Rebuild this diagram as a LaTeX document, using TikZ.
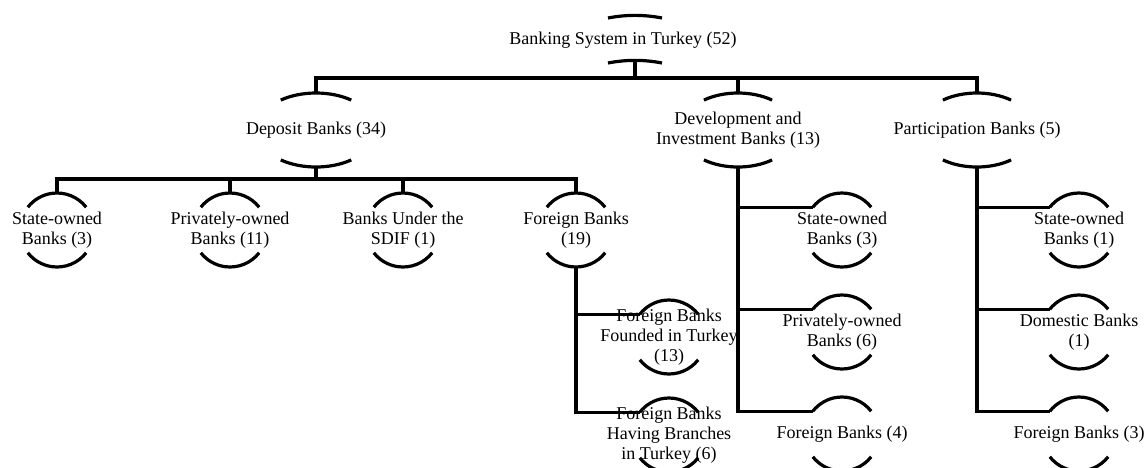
\documentclass[tikz,border=0pt]{standalone}
\usepackage{fontspec}
\setmainfont{Liberation Serif}
\usetikzlibrary{calc}
\newcommand\bnode[7]{% name, x, y, rx, ry, theta, text
  \node[lbl] (#1) at (#2,#3) {#7};
  \pgfmathsetmacro\bnA{180-#6}
  \pgfmathsetmacro\bnB{-#6}
  \pgfmathsetmacro\bnC{-180+#6}
  \coordinate (#1-t) at ($(#1.center)+(0,#5)$);
  \coordinate (#1-b) at ($(#1.center)+(0,-#5)$);
  \coordinate (#1-l) at ($(#1.center)+(\bnA:#4 and #5)$);
  \draw[arcline] ($(#1.center)+(#6:#4 and #5)$) arc[start angle=#6, end angle=\bnA, x radius=#4, y radius=#5];
  \draw[arcline] ($(#1.center)+(\bnB:#4 and #5)$) arc[start angle=\bnB, end angle=\bnC, x radius=#4, y radius=#5];
}
\begin{document}
\begin{tikzpicture}[x=1pt,y=1pt,
  conn/.style={line width=3.3pt},
  arcline/.style={line width=3.2pt},
  lbl/.style={inner sep=0pt, align=center, font=\fontsize{18}{20}\selectfont}]
\useasboundingbox (0,0) rectangle (1148,-467);

% root
\node[lbl] (root) at (623,-40) {Banking System in Turkey (52)};
\coordinate (root-b) at ($(root.center)+(12,-20)$);
\draw[arcline] ($(root.center)+(-15,22)$) .. controls ($(root.center)+(3,25.5)$) and ($(root.center)+(21,25.5)$) .. ($(root.center)+(39,22)$);
\draw[arcline] ($(root.center)+(-15,-23)$) .. controls ($(root.center)+(3,-19.5)$) and ($(root.center)+(21,-19.5)$) .. ($(root.center)+(39,-23)$);

% level 1
\bnode{dep}{316}{-130}{60}{37}{54}{Deposit Banks (34)}
\bnode{dev}{738}{-130}{58}{37}{54}{Development and\\Investment Banks (13)}
\bnode{par}{977}{-130}{58}{37}{54}{Participation Banks (5)}

% deposit children
\bnode{dso}{57}{-230}{37}{37}{38}{State-owned\\Banks (3)}
\bnode{dpo}{230}{-230}{37}{37}{38}{Privately-owned\\Banks (11)}
\bnode{dsd}{403}{-230}{37}{37}{38}{Banks Under the\\SDIF (1)}
\bnode{dfo}{576}{-230}{37}{37}{38}{Foreign Banks\\(19)}

% foreign sub-children
\bnode{ffi}{669}{-337}{37}{37}{38}{Foreign Banks\\Founded in Turkey\\(13)}
\bnode{fhb}{669}{-435}{37}{37}{38}{Foreign Banks\\Having Branches\\in Turkey (6)}

% development children
\bnode{dv1}{842}{-230}{37}{37}{38}{State-owned\\Banks (3)}
\bnode{dv2}{842}{-332}{37}{37}{38}{Privately-owned\\Banks (6)}
\bnode{dv3}{842}{-434}{37}{37}{38}{Foreign Banks (4)}

% participation children
\bnode{pa1}{1079}{-230}{37}{37}{38}{State-owned\\Banks (1)}
\bnode{pa2}{1079}{-332}{37}{37}{38}{Domestic Banks\\(1)}
\bnode{pa3}{1079}{-434}{37}{37}{38}{Foreign Banks (3)}

% connectors: top bus
\coordinate (bus) at ($(root-b)+(0,-18)$);
\draw[conn] (root-b) -- (bus);
\draw[conn] (dep-t) -- (dep-t |- bus) -- (par-t |- bus) -- (par-t);
\draw[conn] (dev-t) -- (dev-t |- bus);

% deposit bus
\coordinate (dbus) at ($(dep-b)+(0,-12)$);
\draw[conn] (dep-b) -- (dbus);
\draw[conn] (dso-t) -- (dso-t |- dbus) -- (dfo-t |- dbus) -- (dfo-t);
\draw[conn] (dpo-t) -- (dpo-t |- dbus);
\draw[conn] (dsd-t) -- (dsd-t |- dbus);

% foreign banks branches
\draw[conn] (dfo-b) |- (fhb-l);
\draw[conn] (ffi-l) -- (ffi-l -| dfo-b);

% development branches
\draw[conn] (dev-b) |- (dv3-l);
\draw[conn] (dv1-l) -- (dv1-l -| dev-b);
\draw[conn] (dv2-l) -- (dv2-l -| dev-b);

% participation branches
\draw[conn] (par-b) |- (pa3-l);
\draw[conn] (pa1-l) -- (pa1-l -| par-b);
\draw[conn] (pa2-l) -- (pa2-l -| par-b);
\end{tikzpicture}
\end{document}
